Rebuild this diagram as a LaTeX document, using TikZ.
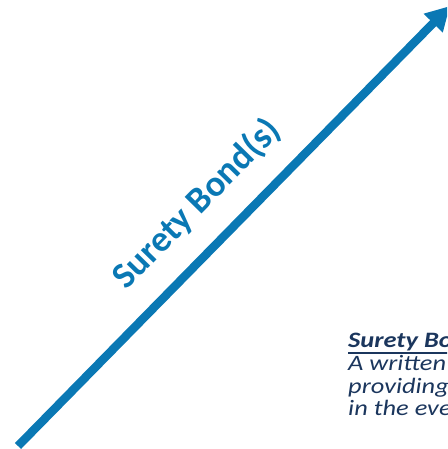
\documentclass[tikz,border=0pt]{standalone}
\usepackage{fontspec}
\setmainfont{Carlito}
\newfontfamily\defwide[FakeStretch=1.2]{Carlito}
\usetikzlibrary{arrows.meta}
\definecolor{bondblue}{HTML}{0A78B4}
\definecolor{defnavy}{HTML}{1B365D}
\begin{document}
\begin{tikzpicture}[x=1pt,y=1pt,
  bondarrow/.style={draw=bondblue, line width=8.5pt, -{Triangle[length=24pt,width=25pt]}},
  bondlabel/.style={text=bondblue, font=\bfseries\fontsize{36.5}{40}\selectfont, inner sep=0pt, rotate=45.5},
  defline/.style={text=defnavy, font=\defwide\itshape\fontsize{22}{23}\selectfont, anchor=base west, inner sep=0pt}]
\useasboundingbox (0,0) rectangle (447,449);
\clip (0,0) rectangle (447,449);

% the rising bond arrow
\coordinate (start) at (18,3);
\coordinate (tip) at (450,443);
\draw[bondarrow] (start) -- (tip);
\node[bondlabel] (label) at (197,245) {Surety Bond(s)};

% definition text, running off the right edge
\node[defline, font=\defwide\bfseries\itshape\fontsize{22}{23}\selectfont] (title) at (348,101) {Surety Bond};
\draw[defnavy, line width=1.6pt] ([yshift=-5pt]title.base west) -- ([yshift=-5pt]title.base east);
\node[defline] (line1) at (348,78.3) {A written};
\node[defline] (line2) at (348,55.6) {providing};
\node[defline] (line3) at (348,33) {in the event};
\end{tikzpicture}
\end{document}
